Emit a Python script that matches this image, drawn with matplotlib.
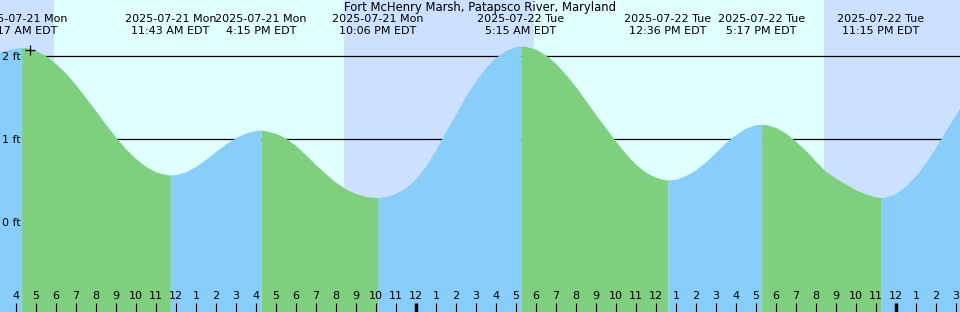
import matplotlib
matplotlib.use("Agg")
import matplotlib.pyplot as plt
import matplotlib.transforms as mtransforms

# hours relative to 2025-07-22 00:00 EDT, water level in feet
tide_hours = [
    -21.0, -20.5, -20.0, -19.717, -19.5, -19.0, -18.5, -18.0, -17.5, -17.0,
    -16.5, -16.0, -15.5, -15.0, -14.5, -14.0, -13.5, -13.0, -12.5, -12.283,
    -12.0, -11.5, -11.0, -10.5, -10.0, -9.5, -9.0, -8.5, -8.0, -7.75,
    -7.5, -7.0, -6.5, -6.0, -5.5, -5.0, -4.5, -4.0, -3.5, -3.0,
    -2.5, -2.0, -1.9, -1.5, -1.0, -0.5, 0.0, 0.5, 1.0, 1.5,
    2.0, 2.5, 3.0, 3.5, 4.0, 4.5, 5.0, 5.25, 5.5, 6.0,
    6.5, 7.0, 7.5, 8.0, 8.5, 9.0, 9.5, 10.0, 10.5, 11.0,
    11.5, 12.0, 12.5, 12.6, 13.0, 13.5, 14.0, 14.5, 15.0, 15.5,
    16.0, 16.5, 17.0, 17.283, 17.5, 18.0, 18.5, 19.0, 19.5, 20.0,
    20.5, 21.0, 21.5, 22.0, 22.5, 23.0, 23.25, 23.5, 24.0, 24.5,
    25.0, 25.5, 26.0, 26.5, 27.0, 27.5,
]
tide_feet = [
    2.03, 2.07, 2.095, 2.10, 2.10, 2.065, 2.00, 1.905, 1.79, 1.65,
    1.495, 1.335, 1.175, 1.02, 0.88, 0.765, 0.67, 0.605, 0.575, 0.57,
    0.575, 0.61, 0.675, 0.76, 0.855, 0.945, 1.02, 1.075, 1.105, 1.11,
    1.10, 1.07, 1.01, 0.92, 0.81, 0.69, 0.58, 0.48, 0.40, 0.345,
    0.31, 0.30, 0.30, 0.31, 0.35, 0.42, 0.53, 0.68, 0.88, 1.10,
    1.31, 1.53, 1.71, 1.865, 1.985, 2.07, 2.115, 2.12, 2.115, 2.08,
    2.01, 1.905, 1.775, 1.625, 1.46, 1.29, 1.13, 0.97, 0.82, 0.695,
    0.60, 0.54, 0.51, 0.51, 0.52, 0.565, 0.635, 0.73, 0.845, 0.965,
    1.06, 1.135, 1.175, 1.18, 1.175, 1.14, 1.07, 0.97, 0.86, 0.73,
    0.61, 0.53, 0.46, 0.39, 0.34, 0.305, 0.30, 0.305, 0.35, 0.44,
    0.565, 0.725, 0.91, 1.11, 1.30, 1.49,
]

# high / low tide events
event_hours = [-19.717, -12.283, -7.75, -1.9, 5.25, 12.6, 17.283, 23.25]
event_kind = ["high", "low", "high", "low", "high", "low", "high", "low"]
event_dates = ["2025-07-21 Mon", "2025-07-21 Mon", "2025-07-21 Mon", "2025-07-21 Mon",
               "2025-07-22 Tue", "2025-07-22 Tue", "2025-07-22 Tue", "2025-07-22 Tue"]
event_clock = ["4:17 AM EDT", "11:43 AM EDT", "4:15 PM EDT", "10:06 PM EDT",
               "5:15 AM EDT", "12:36 PM EDT", "5:17 PM EDT", "11:15 PM EDT"]

# night spans (sunset -> sunrise)
night_spans = [(-21.0, -18.1), (-3.6, 5.9), (20.4, 27.5)]

# hour ticks
tick_hours = list(range(-20, 28))
tick_labels = ["4", "5", "6", "7", "8", "9", "10", "11", "12", "1", "2", "3",
               "4", "5", "6", "7", "8", "9", "10", "11", "12", "1", "2", "3",
               "4", "5", "6", "7", "8", "9", "10", "11", "12", "1", "2", "3",
               "4", "5", "6", "7", "8", "9", "10", "11", "12", "1", "2", "3"]
midnight_hours = [0, 24]

level_ticks = [0, 1, 2]
level_labels = ["0 ft", "1 ft", "2 ft"]

now_hour = -19.3
now_feet = 2.07

title = "Fort McHenry Marsh, Patapsco River, Maryland"

DAY = "#e0ffff"
NIGHT = "#cce0ff"
RISE = "#87cefa"
FALL = "#7ecf7e"

W, H = 960, 312
x_lo, x_hi = -20.8, 27.2
y_lo, y_hi = -1.077, 2.673
fs = 8

fig = plt.figure(figsize=(W / 100, H / 100), dpi=100)
ax = fig.add_axes([0, 0, 1, 1])
ax.set_xlim(x_lo, x_hi)
ax.set_ylim(y_lo, y_hi)
ax.set_facecolor(DAY)
for s in ax.spines.values():
    s.set_visible(False)

for a, b in night_spans:
    ax.axvspan(a, b, color=NIGHT, lw=0, zorder=0)

for lv in level_ticks[1:]:
    ax.axhline(lv, color="black", lw=0.9, zorder=0.5)

# fill rising / falling pieces between events
bounds = [tide_hours[0]] + event_hours + [tide_hours[-1]]
for i in range(len(bounds) - 1):
    a, b = bounds[i], bounds[i + 1]
    seg = [(t, v) for t, v in zip(tide_hours, tide_feet) if a <= t <= b]
    ts = [p[0] for p in seg]
    vs = [p[1] for p in seg]
    if i < len(event_kind):
        rising = event_kind[i] == "high"
    else:
        rising = event_kind[-1] == "low"
    ax.fill_between(ts, vs, y_lo, color=RISE if rising else FALL, lw=0,
                    antialiased=False, zorder=1)

ax.plot([now_hour], [now_feet], marker="+", ms=7, mew=0.9, color="black", zorder=3)

# hour ticks along the bottom, inside
ax.set_axisbelow(False)
ax.set_xticks(tick_hours, tick_labels)
ax.tick_params(axis="x", direction="in", length=6.5, width=0.8, pad=-15,
               labelsize=fs, color="black")
for tk, hr in zip(ax.xaxis.get_major_ticks(), tick_hours):
    if hr in midnight_hours:
        tk.tick1line.set_markeredgewidth(2.5)

ax.set_yticks(level_ticks, level_labels)
ax.tick_params(axis="y", direction="in", length=0, pad=-1.5, labelsize=fs)
for lab in ax.get_yticklabels():
    lab.set_horizontalalignment("left")

trans = mtransforms.blended_transform_factory(ax.transData, ax.transAxes)
ax.text(0.5, 1 - 7.5 / H, title, transform=ax.transAxes, ha="center",
        va="center", fontsize=8.4)
for t, d, c in zip(event_hours, event_dates, event_clock):
    ax.text(t, 1 - 19.5 / H, d, transform=trans, ha="center", va="center", fontsize=fs)
    ax.text(t, 1 - 31.5 / H, c, transform=trans, ha="center", va="center", fontsize=fs)

fig.savefig("out.png", dpi=100)
